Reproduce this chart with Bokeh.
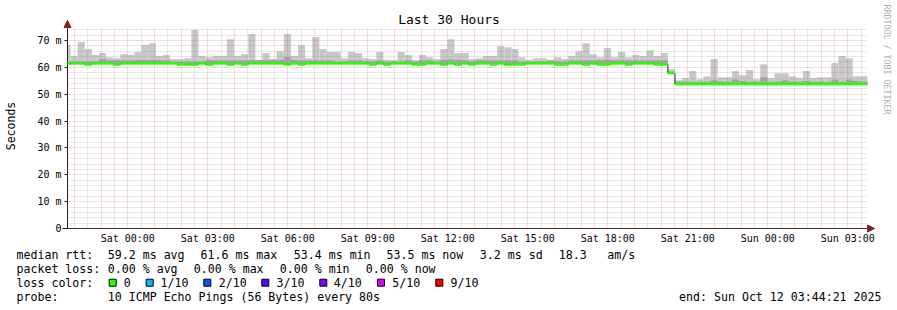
import numpy as np
from datetime import datetime, timedelta
from bokeh.plotting import figure
from bokeh.models import Range1d, FixedTicker, DatetimeTickFormatter, Arrow, NormalHead
from bokeh.core.properties import value
from bokeh.embed import file_html
from bokeh.resources import INLINE

# ---------------- data ----------------
title_text = "Last 30 Hours"
y_axis_title = "Seconds"
watermark_text = "RRDTOOL / TOBI OETIKER"
end_time = datetime(2025, 10, 12, 3, 44, 21)
hours_shown = 30
block_minutes = 16
first_block_offset_min = -9.25

y_ticks = [0, 10, 20, 30, 40, 50, 60, 70]
y_tick_labels = ["0", "10 m", "20 m", "30 m", "40 m", "50 m", "60 m", "70 m"]

# max ping per consolidated block (ms)
smoke_max = [
    68.3, 64.2, 69.4, 66.8, 64.6, 65.3, 63.8, 63.4, 64.9, 64.6,
    65.7, 68.3, 69.0, 64.2, 64.6, 63.1, 63.1, 63.4, 73.9, 64.2,
    63.8, 64.2, 64.2, 70.5, 64.2, 64.9, 72.4, 62.7, 65.3, 63.1,
    66.0, 72.4, 64.2, 68.3, 63.4, 71.3, 66.8, 65.7, 65.7, 63.4,
    65.7, 65.3, 63.4, 63.1, 65.7, 62.7, 62.7, 65.7, 64.6, 62.7,
    64.6, 63.8, 63.1, 66.8, 70.5, 65.3, 65.3, 63.1, 63.4, 64.2,
    64.2, 67.9, 67.5, 66.8, 63.8, 62.7, 63.4, 63.4, 62.7, 63.8,
    63.1, 64.2, 66.0, 69.0, 64.9, 63.8, 67.2, 63.8, 65.7, 63.8,
    64.6, 64.2, 66.4, 64.2, 65.3, 59.3, 55.2, 56.0, 58.6, 55.6,
    56.7, 63.1, 56.3, 56.3, 58.6, 57.1, 59.0, 55.6, 61.2, 56.0,
    57.8, 57.8, 56.7, 56.0, 58.6, 56.0, 56.3, 56.3, 61.6, 64.2,
    63.4, 56.7, 56.7, 56.7,
]
# upper edge of the dense (darker) smoke per block (ms)
smoke_dense = [
    62.2, 62.2, 62.2, 62.2, 62.2, 63.1, 62.6, 62.6, 62.6, 62.6,
    62.7, 62.7, 62.7, 62.7, 62.6, 62.2, 62.2, 62.2, 62.2, 62.2,
    62.6, 62.6, 62.6, 62.6, 62.6, 62.6, 62.7, 62.7, 62.6, 62.8,
    62.8, 63.9, 62.7, 62.6, 62.6, 62.6, 62.6, 62.6, 62.2, 62.2,
    62.6, 62.6, 62.2, 62.2, 62.6, 62.2, 62.2, 62.2, 62.6, 62.2,
    62.6, 62.6, 62.2, 62.8, 63.0, 62.8, 62.6, 62.2, 62.6, 62.6,
    62.6, 62.6, 62.6, 62.6, 62.2, 62.2, 62.2, 62.2, 62.6, 62.2,
    62.2, 62.6, 62.6, 62.6, 62.6, 62.6, 62.8, 62.6, 62.6, 62.6,
    62.6, 62.6, 62.6, 62.6, 62.6, 58.4, 54.6, 54.6, 54.6, 54.6,
    54.6, 55.2, 54.6, 54.6, 55.5, 54.9, 54.6, 54.6, 56.3, 54.6,
    54.6, 55.2, 54.6, 54.6, 54.9, 54.6, 54.6, 54.6, 55.5, 54.6,
    55.5, 54.9, 54.6, 54.6,
]
# median rtt per block (ms)
median_rtt = [
    61.5, 61.5, 61.5, 61.1, 61.5, 61.5, 61.5, 61.1, 61.5, 61.5,
    61.5, 61.5, 61.5, 61.5, 61.5, 61.5, 61.1, 61.1, 61.1, 61.5,
    61.1, 61.5, 61.5, 61.1, 61.5, 61.1, 61.5, 61.5, 61.5, 61.5,
    61.5, 61.1, 61.5, 61.1, 61.5, 61.5, 61.5, 61.5, 61.5, 61.5,
    61.5, 61.5, 61.5, 61.1, 61.5, 61.1, 61.5, 61.5, 61.5, 61.1,
    61.1, 61.5, 61.5, 61.1, 61.5, 61.1, 61.5, 61.1, 61.5, 61.5,
    61.1, 61.5, 61.1, 61.1, 61.1, 61.5, 61.5, 61.5, 61.5, 61.1,
    61.1, 61.5, 61.5, 61.1, 61.5, 61.1, 61.1, 61.5, 61.5, 61.1,
    61.5, 61.5, 61.5, 61.1, 61.1, 57.9, 53.8, 53.8, 53.8, 53.8,
    53.8, 53.8, 53.8, 53.8, 53.8, 53.8, 53.8, 53.8, 53.8, 53.8,
    53.8, 53.8, 53.8, 53.8, 53.8, 53.8, 53.8, 53.8, 53.8, 53.8,
    53.8, 53.8, 53.8, 53.8,
]

legend_rows = [
    ["median rtt:", "59.2 ms avg", "61.6 ms max", "53.4 ms min", "53.5 ms now", "3.2 ms sd", "18.3", "am/s"],
    ["packet loss:", "0.00 % avg", "0.00 % max", "0.00 % min", "0.00 % now"],
    ["loss color:"],
    ["probe:", "10 ICMP Echo Pings (56 Bytes) every 80s"],
]
loss_labels = ["0", "1/10", "2/10", "3/10", "4/10", "5/10", "9/10"]
loss_colors = ["#26ff00", "#00b8ff", "#0059ff", "#5e00ff", "#7e00ff", "#dd00ff", "#ff0000"]
end_label = "end: Sun Oct 12 03:44:21 2025"

# ---------------- layout constants (pixels) ----------------
W, H = 897, 310
FRAME_L = 67           # pixel column of the start time
PLOT_W = 800           # data area width for 30 h
FRAME_B = 228          # pixel row of value 0
PX_PER_MS = 188 / 70.0
DATA_TOP_PX = 28
MONO = "DejaVu Sans Mono"

HOUR_MS = 3600e3
EPOCH = datetime(1970, 1, 1)
end_ms = (end_time - EPOCH).total_seconds() * 1000
start_ms = end_ms - hours_shown * HOUR_MS
px_per_hour = PLOT_W / hours_shown


def hx(px):
    return start_ms + (px - FRAME_L) / px_per_hour * HOUR_MS


def vy(px):
    return (FRAME_B - px) / PX_PER_MS


data_top = vy(DATA_TOP_PX)

# blocks
n = len(smoke_max)
k = np.arange(n)
bl = start_ms + (first_block_offset_min + k * block_minutes) * 60e3
br = bl + block_minutes * 60e3
left = np.maximum(bl, start_ms)
right = np.minimum(br, end_ms)
med = np.array(median_rtt)

# ticks
start_dt = end_time - timedelta(hours=hours_shown)
first_hour = (start_dt + timedelta(hours=1)).replace(minute=0, second=0)
hourly, half, three = [], [], []
t = first_hour
while t <= end_time:
    ms = (t - EPOCH).total_seconds() * 1000
    hourly.append(ms)
    if t.hour % 3 == 0:
        three.append(ms)
    t += timedelta(hours=1)
t = first_hour - timedelta(minutes=30)
while t <= end_time:
    if t >= start_dt:
        half.append((t - EPOCH).total_seconds() * 1000)
    t += timedelta(hours=1)

# ---------------- figure ----------------
p = figure(width=W, height=H, x_axis_type="datetime",
           x_range=Range1d(hx(0), hx(W)), y_range=Range1d(vy(H), vy(0)),
           output_backend="svg", toolbar_location=None, title=None,
           min_border=0, min_border_left=0, min_border_right=0,
           min_border_top=0, min_border_bottom=0)
p.outline_line_color = None
p.background_fill_color = "white"
p.border_fill_color = "white"

xa = p.xaxis[0]
xa.fixed_location = 0
xa.ticker = FixedTicker(ticks=three)
fmt = "%a %H:%M"
xa.formatter = DatetimeTickFormatter(hours=fmt, hourmin=fmt, days=fmt, minutes=fmt, boundary_scaling=False)
xa.bounds = (hx(62), hx(871))
xa.major_tick_out = 0
xa.major_tick_in = 0
xa.minor_tick_out = 0
xa.minor_tick_in = 0
xa.axis_line_color = "#1f1f1f"
xa.major_label_text_font = MONO
xa.major_label_text_font_size = "10px"
xa.major_label_text_color = "#000000"
xa.major_label_standoff = 4

ya = p.yaxis[0]
ya.fixed_location = start_ms
ya.ticker = FixedTicker(ticks=y_ticks)
ya.major_label_overrides = dict(zip(y_ticks, y_tick_labels))
ya.bounds = (0, vy(23))
ya.major_tick_out = 3
ya.major_tick_in = 0
ya.minor_tick_out = 0
ya.minor_tick_in = 0
ya.major_tick_line_color = "#1f1f1f"
ya.axis_line_color = "#1f1f1f"
ya.major_label_text_font = MONO
ya.major_label_text_font_size = "10px"
ya.major_label_text_color = "#000000"
ya.major_label_standoff = 3
ya.axis_label = y_axis_title
ya.axis_label_text_font = MONO
ya.axis_label_text_font_size = "11.5px"
ya.axis_label_text_font_style = "normal"
ya.axis_label_text_color = "#000000"
ya.axis_label_standoff = 16

minor_y = [v for v in range(2, 76, 2) if v % 10 != 0]
p.xgrid.ticker = FixedTicker(ticks=hourly, minor_ticks=half)
p.ygrid.ticker = FixedTicker(ticks=y_ticks, minor_ticks=minor_y)
for g in (p.xgrid[0], p.ygrid[0]):
    g.grid_line_color = "#de5050"
    g.grid_line_alpha = 0.42
    g.grid_line_dash = "1 1"
    g.minor_grid_line_color = "#8f8f8f"
    g.minor_grid_line_alpha = 0.4
    g.minor_grid_line_dash = "1 1"
    g.level = "guide"
p.xgrid.bounds = (start_ms, end_ms)
p.xgrid.cross_bounds = (0, data_top)
p.ygrid.bounds = (0, data_top)
p.ygrid.cross_bounds = (start_ms, end_ms)

# smoke
p.quad(left=left, right=right, bottom=med, top=smoke_max,
       fill_color="#c8c8c8", line_color=None)
p.quad(left=left, right=right, bottom=med, top=smoke_dense,
       fill_color="#a4a4a4", line_color=None)
# median line + loss-coloured band
p.step(x=np.append(left, right[-1]), y=np.append(med, med[-1]), mode="after",
       line_color="#202020", line_width=1, level="annotation")
p.quad(left=left, right=right, bottom=med - 0.5, top=med + 0.5,
       fill_color=loss_colors[0], line_color=None, level="annotation")

# axis arrows
head_col = "#7f1f1f"
p.add_layout(Arrow(end=NormalHead(size=7, fill_color=head_col, line_color=head_col, line_width=1),
                   x_start=start_ms, y_start=vy(30), x_end=start_ms, y_end=vy(20),
                   line_color=None))
p.add_layout(Arrow(end=NormalHead(size=7, fill_color=head_col, line_color=head_col, line_width=1),
                   x_start=hx(862), y_start=0, x_end=hx(874), y_end=0,
                   line_color=None))

# title and watermark
p.text(x=[hx(448.5)], y=[vy(18.5)], text=[title_text], text_align="center",
       text_baseline="middle", text_font=value(MONO), text_font_size="13px",
       text_color="#000000")
p.text(x=[hx(886)], y=[vy(4)], text=[watermark_text], angle=-np.pi / 2,
       text_align="left", text_baseline="middle", text_font=value(MONO),
       text_font_size="8.3px", text_color="#b0b0b0")

# ---------------- legend block below the graph ----------------
row_y = [254.3, 268.2, 282.2, 296.2]
row_x = [
    [16, 107.3, 200, 293.3, 386, 479.3, 558.3, 606.7],
    [16, 107.3, 193.3, 279.3, 365.3],
    [16],
    [16, 107.3],
]
tx, ty, tt = [], [], []
for r, items in enumerate(legend_rows):
    for j, s in enumerate(items):
        tx.append(hx(row_x[r][j]))
        ty.append(vy(row_y[r]))
        tt.append(s)
sq_center = [112.2, 149.2, 206.8, 264.8, 322.8, 380.5, 438.8]
lab_x = [123.3, 160.0, 218.3, 276.0, 333.3, 391.7, 450.0]
for j, s in enumerate(loss_labels):
    tx.append(hx(lab_x[j]))
    ty.append(vy(row_y[2]))
    tt.append(s)

p.text(x=tx, y=ty, text=tt, text_align="left", text_baseline="middle",
       text_font=value(MONO), text_font_size="11.6px", text_color="#000000")
p.text(x=[hx(881)], y=[vy(row_y[3])], text=[end_label], text_align="right", text_baseline="middle",
       text_font=value(MONO), text_font_size="11.6px", text_color="#000000")
p.rect(x=[hx(v) for v in sq_center], y=[vy(row_y[2])] * len(sq_center),
       width=7, height=7, width_units="screen", height_units="screen",
       fill_color=loss_colors, line_color="#000000", line_width=1)

open("out.html", "w").write(file_html(p, INLINE))
